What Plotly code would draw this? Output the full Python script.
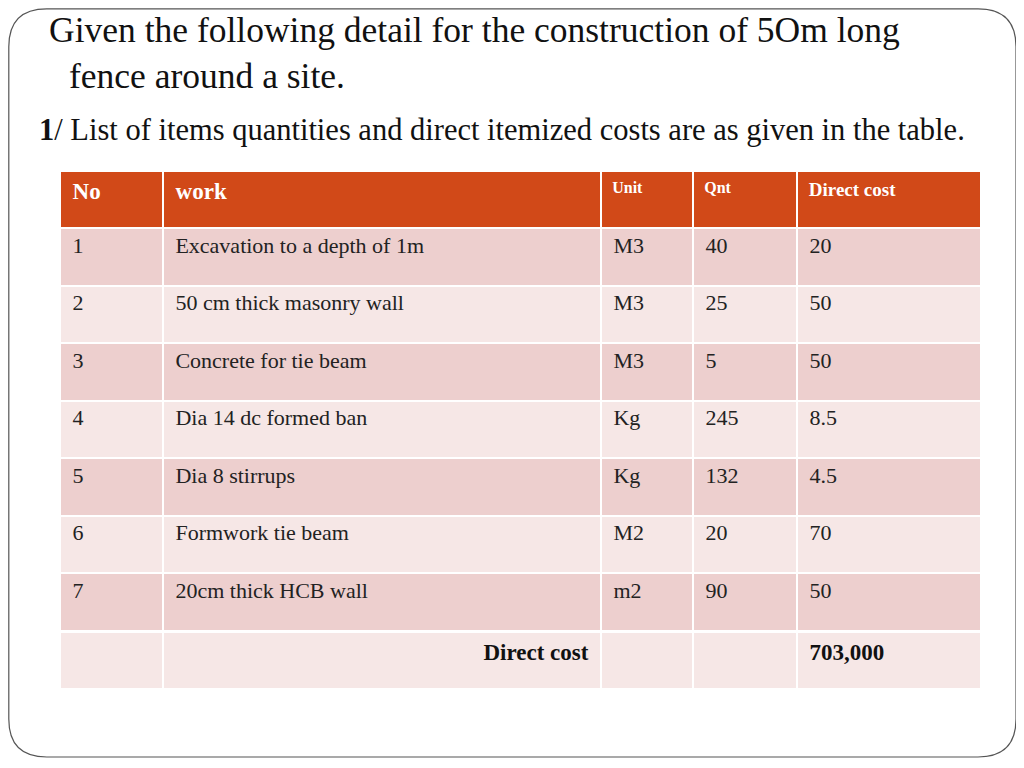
import plotly.graph_objects as go

# ---- data ----
header_labels = ["No", "work", "Unit", "Qnt", "Direct cost"]
item_no = ["1", "2", "3", "4", "5", "6", "7"]
work_items = [
    "Excavation to a depth of 1m",
    "50 cm thick masonry wall",
    "Concrete for tie beam",
    "Dia 14 dc formed ban",
    "Dia 8 stirrups",
    "Formwork tie beam",
    "20cm thick HCB wall",
]
units = ["M3", "M3", "M3", "Kg", "Kg", "M2", "m2"]
quantities = ["40", "25", "5", "245", "132", "20", "90"]
direct_costs = ["20", "50", "50", "8.5", "4.5", "70", "50"]
total_label = "Direct cost"
total_value = "703,000"

title_line1 = "Given the following detail for the construction of 5Om long"
title_line2 = "fence around a site."
subtitle = "<b>1</b>/ List of items quantities and direct itemized costs are as given in the table."

# ---- layout helpers (page has an 8px body margin) ----
W, H, OFF = 1016, 760, 8


def px(x):
    return (x - OFF) / W


def py(y):
    return 1 - (y - OFF) / H


PAD = "\u2009"  # thin space to mimic the slightly wider cell padding


def padl(vals):
    return [PAD + v if v else v for v in vals]


columns = [padl(c) for c in [item_no, work_items, units, quantities, direct_costs]]
n_rows = len(item_no)

HEAD = "rgb(209,73,24)"
ODD = "rgb(237,207,206)"
EVEN = "rgb(246,231,230)"
row_fill = [ODD if i % 2 == 0 else EVEN for i in range(n_rows)]

SERIF = "Liberation Serif"
COLW = [103, 438, 92, 104, 184]

fig = go.Figure()
fig.add_trace(go.Table(
    domain=dict(x=[px(60), px(981)], y=[py(632), py(171)]),
    columnwidth=COLW,
    header=dict(
        values=[PAD + "<b>" + h + "</b>" for h in header_labels],
        fill_color=HEAD,
        line=dict(color="white", width=2),
        align="left",
        height=57,
        font=dict(family=SERIF, color="white", size=[23, 23, 16, 16, 19]),
    ),
    cells=dict(
        values=columns,
        fill_color=[row_fill] * len(columns),
        line=dict(color="white", width=2),
        align="left",
        height=57.5,
        font=dict(family=SERIF, color="#222222", size=22),
    ),
))

# total row
fig.add_trace(go.Table(
    domain=dict(x=[px(60), px(981)], y=[py(692), py(632)]),
    columnwidth=COLW,
    header=dict(
        values=["", "<b>" + total_label + "</b>" + PAD, "", "", PAD + "<b>" + total_value + "</b>"],
        fill_color=EVEN,
        line=dict(color="white", width=2),
        align=["left", "right", "left", "left", "left"],
        height=57,
        font=dict(family=SERIF, color="#111111", size=23),
    ),
))

# slide frame (rounded rectangle)
rx, ry = 38 / W, 38 / H
x0, y0, x1, y1 = px(8.8), py(8.8), px(1016), py(757)
fig.add_shape(
    type="path", xref="paper", yref="paper",
    path=(f"M {x0 + rx} {y0} L {x1 - rx} {y0} Q {x1} {y0} {x1} {y0 - ry} "
          f"L {x1} {y1 + ry} Q {x1} {y1} {x1 - rx} {y1} "
          f"L {x0 + rx} {y1} Q {x0} {y1} {x0} {y1 + ry} "
          f"L {x0} {y0 - ry} Q {x0} {y0} {x0 + rx} {y0} Z"),
    line=dict(color="#555555", width=1.2),
)

fig.add_annotation(text=title_line1, x=px(47), y=py(30), xref="paper", yref="paper",
                   xanchor="left", yanchor="middle", showarrow=False,
                   font=dict(family=SERIF, size=35.5, color="#111111"))
fig.add_annotation(text=title_line2, x=px(67), y=py(76), xref="paper", yref="paper",
                   xanchor="left", yanchor="middle", showarrow=False,
                   font=dict(family=SERIF, size=35.5, color="#111111"))
fig.add_annotation(text=subtitle, x=px(37), y=py(130), xref="paper", yref="paper",
                   xanchor="left", yanchor="middle", showarrow=False,
                   font=dict(family=SERIF, size=30.5, color="#111111"))

fig.update_layout(
    width=W, height=H,
    margin=dict(l=0, r=0, t=0, b=0),
    paper_bgcolor="white", plot_bgcolor="white",
)

fig.write_html("out.html")
